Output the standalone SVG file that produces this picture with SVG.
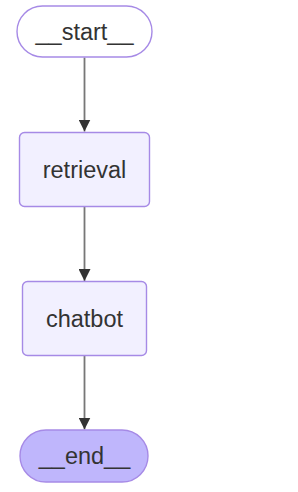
<svg xmlns="http://www.w3.org/2000/svg" width="298" height="492" viewBox="0 0 298 492">
<style>
.node rect{stroke:#a68ae6;stroke-width:1.4}
.lbl{font-family:"Liberation Sans",Arial,sans-serif;font-size:23.5px;fill:#333;text-anchor:middle;dominant-baseline:central}
.edge{stroke:#777;stroke-width:1.8;fill:none}
</style>
<defs>
<marker id="arr" viewBox="0 0 12 12" refX="12" refY="6" markerWidth="12" markerHeight="12" markerUnits="userSpaceOnUse" orient="auto">
<path d="M0,0 L12,6 L0,12 z" fill="#333"/>
</marker>
</defs>
<rect width="298" height="492" fill="#fff"/>
<g id="connectors">
<line class="edge" x1="84.5" y1="57.5" x2="84.5" y2="131.5" marker-end="url(#arr)"/>
<line class="edge" x1="84.5" y1="206.5" x2="84.5" y2="281" marker-end="url(#arr)"/>
<line class="edge" x1="84.5" y1="355.5" x2="84.5" y2="429.5" marker-end="url(#arr)"/>
</g>
<g id="start" class="node">
<rect x="17" y="6" width="135" height="51" rx="25.5" fill="#fff" fill-opacity="0"/>
<text class="lbl" x="84.5" y="31.5">__start__</text>
</g>
<g id="retrieval" class="node">
<rect x="19.5" y="132.5" width="130" height="74" rx="5" fill="#f2f0ff"/>
<text class="lbl" x="84.5" y="169.5">retrieval</text>
</g>
<g id="chatbot" class="node">
<rect x="22.5" y="281.5" width="124" height="74" rx="5" fill="#f2f0ff"/>
<text class="lbl" x="84.5" y="318.5">chatbot</text>
</g>
<g id="end" class="node">
<rect x="20" y="430" width="128" height="52" rx="26" fill="#bfb6fc"/>
<text class="lbl" x="84.5" y="456">__end__</text>
</g>
</svg>
